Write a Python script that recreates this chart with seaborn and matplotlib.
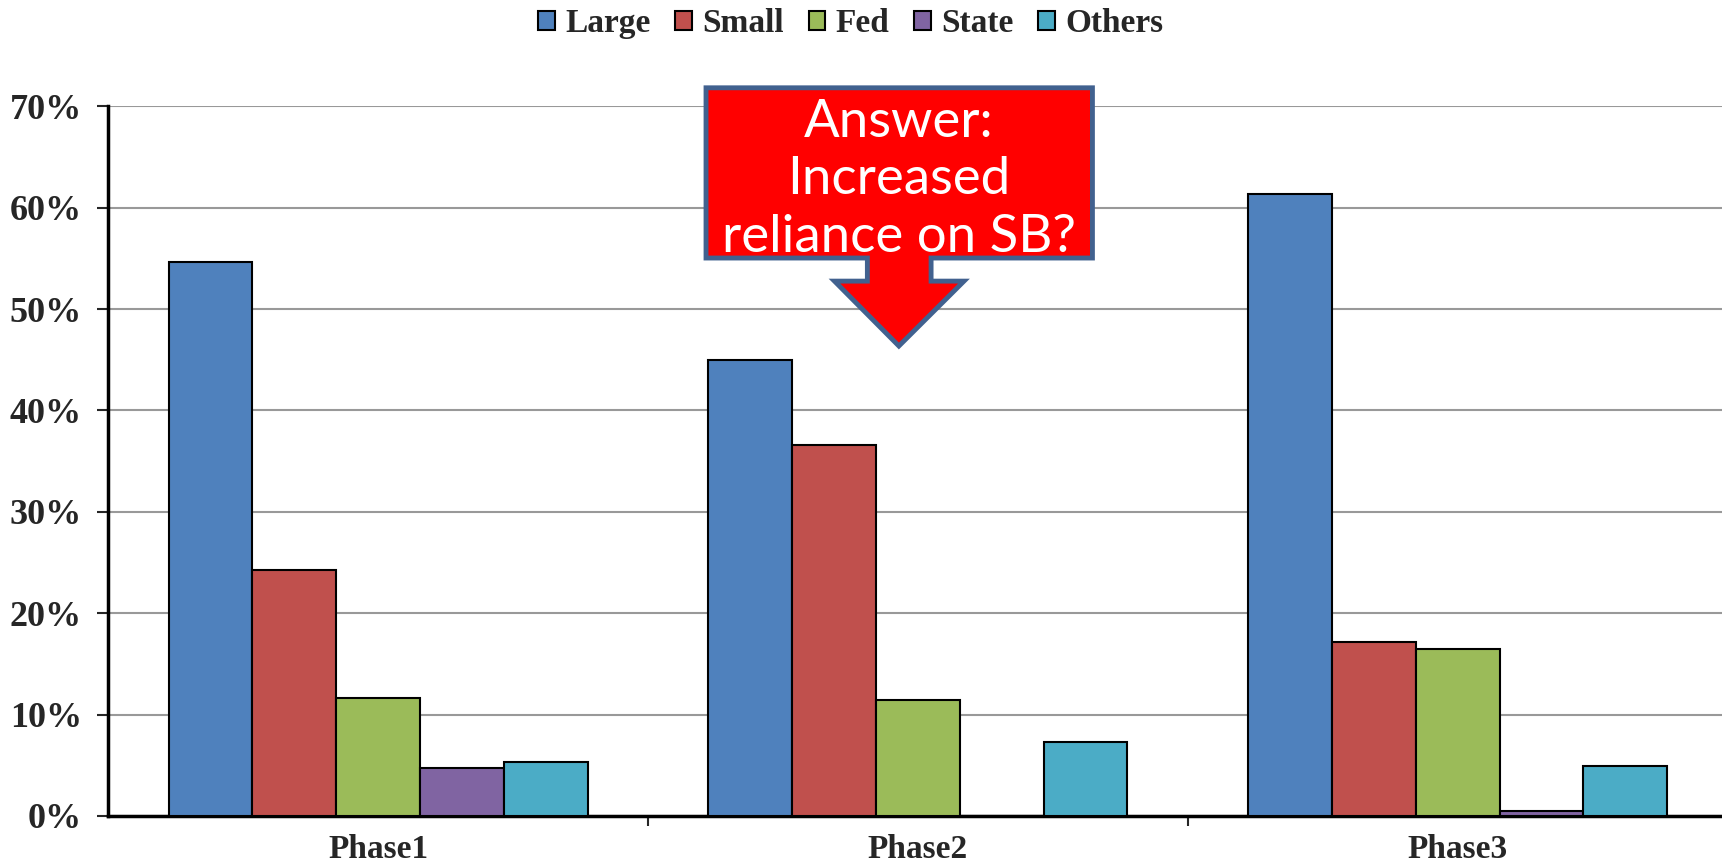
import matplotlib
matplotlib.use("Agg")
import matplotlib.pyplot as plt
import seaborn as sns
import pandas as pd
from matplotlib.patches import Polygon
from matplotlib.ticker import PercentFormatter

# data
phases = ["Phase1", "Phase2", "Phase3"]
groups = ["Large", "Small", "Fed", "State", "Others"]
large = [0.546, 0.450, 0.614]
small = [0.243, 0.366, 0.172]
fed = [0.116, 0.114, 0.165]
state = [0.047, 0.0, 0.005]
others = [0.053, 0.073, 0.049]
colors = ["#4F81BD", "#C0504D", "#9BBB59", "#8064A2", "#4BACC6"]
callout_lines = ["Answer:", "Increased", "reliance on SB?"]

rows = []
for name, vals in zip(groups, [large, small, fed, state, others]):
    for ph, v in zip(phases, vals):
        rows.append({"phase": ph, "group": name, "share": v})
df = pd.DataFrame(rows)

sns.set_style("white")
plt.rcParams["font.family"] = ["Liberation Serif", "DejaVu Serif"]

fig = plt.figure(figsize=(17.22, 8.65), dpi=100)
ax = fig.add_axes([0.0628, 0.0567, 0.9405, 0.8203])

sns.barplot(data=df, x="phase", y="share", hue="group", order=phases,
            hue_order=groups, palette=colors, width=0.776, gap=0,
            edgecolor="black", linewidth=1.5, saturation=1, ax=ax, zorder=3)

ax.set_ylim(0, 0.7)
ax.set_xlim(-0.5, 2.5)
ax.set_yticks([i / 10 for i in range(8)])
ax.yaxis.set_major_formatter(PercentFormatter(1.0, decimals=0))
ax.grid(axis="y", color="#999999", linewidth=1.5, zorder=0)
ax.set_axisbelow(True)
ax.set_xlabel("")
ax.set_ylabel("")

for s in ["top", "right"]:
    ax.spines[s].set_visible(False)
for s in ["left", "bottom"]:
    ax.spines[s].set_color("black")
    ax.spines[s].set_linewidth(2.5)

ax.tick_params(axis="y", which="major", direction="out", length=8, width=1.5,
               left=True, labelsize=26, pad=11)
ax.tick_params(axis="x", which="major", length=0, labelsize=24, pad=13)
ax.set_xticks([0.5, 1.5], minor=True)
ax.tick_params(axis="x", which="minor", direction="out", length=7, width=1.5,
               bottom=True)
for lab in ax.get_yticklabels() + ax.get_xticklabels():
    lab.set_fontweight("bold")

handles, labels = ax.get_legend_handles_labels()
ax.legend_.remove()
leg = fig.legend(handles, labels, loc="center", bbox_to_anchor=(0.494, 0.973),
                 ncol=5, frameon=False, handlelength=0.5, handleheight=0.5,
                 handletextpad=0.3, columnspacing=0.75,
                 prop={"family": "Liberation Serif", "weight": "bold", "size": 24})

# callout arrow shape (figure fraction)
shape = [(0.410, 0.8985), (0.6344, 0.8985), (0.6344, 0.7017), (0.5407, 0.7017),
         (0.5407, 0.675), (0.5598, 0.675), (0.522, 0.600), (0.4846, 0.675),
         (0.5037, 0.675), (0.5037, 0.7017), (0.410, 0.7017)]
fig.patches.append(Polygon(shape, closed=True, transform=fig.transFigure,
                           facecolor="#FF0000", edgecolor="#41618F",
                           linewidth=3.5, joinstyle="miter", zorder=5))
for txt, yy in zip(callout_lines, [0.858, 0.792, 0.726]):
    fig.text(0.522, yy, txt, ha="center", va="center", color="white",
             fontsize=38, family=["Lato", "DejaVu Sans"], zorder=6)

fig.savefig("out.png", dpi=100)
